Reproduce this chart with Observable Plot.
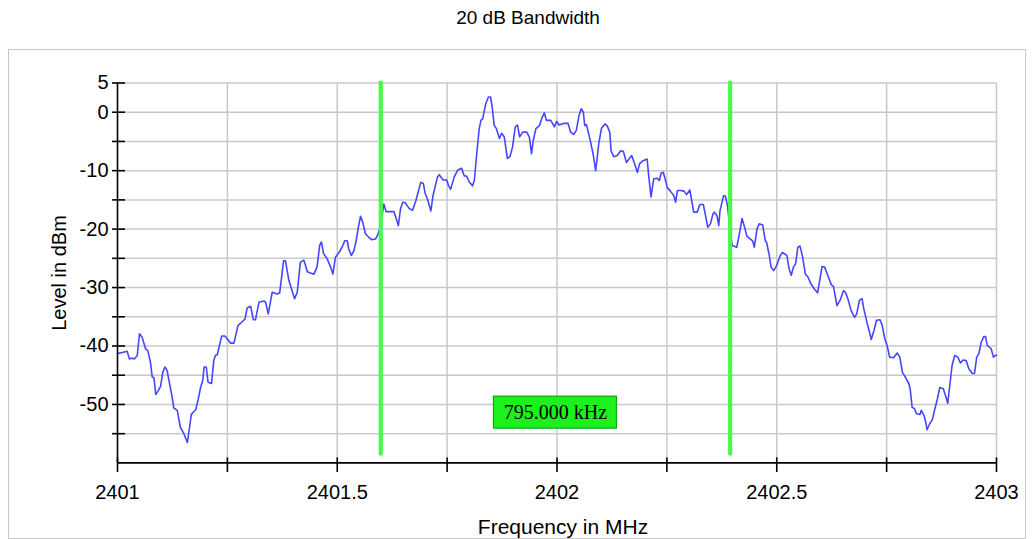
<!DOCTYPE html>
<html><head><meta charset="utf-8">
<script src="https://cdn.jsdelivr.net/npm/d3@7"></script>
<script src="https://cdn.jsdelivr.net/npm/@observablehq/plot@0.6"></script>
<style>
body{margin:0;background:#fff;font-family:"Liberation Sans",Arial,sans-serif;}
#title{position:absolute;left:0;top:7px;width:1056px;text-align:center;font-size:19px;line-height:22px;color:#000;}
#frame{position:absolute;left:8px;top:49px;width:1018px;height:490px;border:1.5px solid #c8c8c8;box-sizing:border-box;}
#chart{position:absolute;left:0;top:49px;}
</style></head><body>
<div id="title">20 dB Bandwidth</div>
<div id="frame"></div>
<div id="chart"></div>
<script>
const freqMHz = [
2401.000,2401.011,2401.022,2401.027,2401.033,2401.039,2401.045,2401.050,2401.056,2401.064,
2401.069,2401.075,2401.079,2401.083,2401.087,2401.093,2401.098,2401.103,2401.108,2401.113,
2401.117,2401.123,2401.128,2401.136,2401.143,2401.151,2401.159,2401.164,2401.168,2401.174,
2401.178,2401.184,2401.189,2401.194,2401.197,2401.202,2401.206,2401.214,2401.219,2401.223,
2401.227,2401.237,2401.244,2401.250,2401.257,2401.265,2401.274,2401.280,2401.290,2401.295,
2401.303,2401.309,2401.314,2401.322,2401.333,2401.337,2401.343,2401.352,2401.363,2401.369,
2401.378,2401.382,2401.390,2401.403,2401.409,2401.416,2401.424,2401.432,2401.439,2401.447,
2401.454,2401.460,2401.464,2401.469,2401.477,2401.485,2401.490,2401.496,2401.504,2401.511,
2401.517,2401.523,2401.526,2401.532,2401.538,2401.543,2401.548,2401.553,2401.558,2401.564,
2401.572,2401.578,2401.587,2401.592,2401.598,2401.606,2401.611,2401.629,2401.639,2401.644,
2401.649,2401.655,2401.663,2401.671,2401.679,2401.690,2401.696,2401.700,2401.705,2401.713,
2401.718,2401.728,2401.732,2401.741,2401.749,2401.753,2401.758,2401.766,2401.774,2401.783,
2401.789,2401.794,2401.800,2401.808,2401.812,2401.817,2401.823,2401.827,2401.831,2401.838,
2401.844,2401.849,2401.853,2401.857,2401.862,2401.869,2401.874,2401.880,2401.887,2401.893,
2401.899,2401.905,2401.910,2401.915,2401.922,2401.931,2401.937,2401.942,2401.946,2401.952,
2401.960,2401.965,2401.971,2401.976,2401.986,2401.994,2401.999,2402.005,2402.016,2402.025,
2402.031,2402.038,2402.044,2402.050,2402.055,2402.060,2402.063,2402.067,2402.075,2402.082,
2402.088,2402.095,2402.101,2402.109,2402.114,2402.120,2402.123,2402.129,2402.137,2402.145,
2402.151,2402.158,2402.163,2402.170,2402.176,2402.183,2402.188,2402.196,2402.205,2402.209,
2402.214,2402.220,2402.228,2402.233,2402.237,2402.242,2402.247,2402.251,2402.258,2402.266,
2402.270,2402.274,2402.281,2402.289,2402.295,2402.302,2402.305,2402.311,2402.319,2402.325,
2402.333,2402.338,2402.343,2402.349,2402.355,2402.358,2402.364,2402.368,2402.371,2402.379,
2402.383,2402.388,2402.395,2402.399,2402.409,2402.415,2402.421,2402.427,2402.432,2402.440,
2402.445,2402.449,2402.455,2402.460,2402.468,2402.474,2402.477,2402.483,2402.487,2402.493,
2402.500,2402.508,2402.513,2402.523,2402.528,2402.533,2402.538,2402.543,2402.548,2402.553,
2402.559,2402.565,2402.571,2402.578,2402.586,2402.593,2402.599,2402.603,2402.609,2402.616,
2402.624,2402.629,2402.637,2402.644,2402.652,2402.657,2402.663,2402.669,2402.677,2402.682,
2402.688,2402.694,2402.698,2402.706,2402.712,2402.715,2402.721,2402.727,2402.735,2402.740,
2402.746,2402.751,2402.757,2402.766,2402.774,2402.780,2402.786,2402.791,2402.801,2402.804,
2402.808,2402.813,2402.818,2402.826,2402.829,2402.835,2402.839,2402.842,2402.848,2402.854,
2402.859,2402.865,2402.871,2402.879,2402.884,2402.889,2402.895,2402.899,2402.905,2402.912,
2402.918,2402.924,2402.931,2402.937,2402.945,2402.950,2402.955,2402.960,2402.965,2402.971,
2402.975,2402.979,2402.985,2402.988,2402.993,2402.998,2403.000
];
const levelDBm = [
-41.3,-41.1,-40.9,-42.2,-42.1,-42.2,-41.6,-37.9,-38.5,-40.5,
-40.8,-42.8,-45.3,-45.4,-48.3,-47.6,-46.9,-44.5,-43.6,-44.2,
-45.9,-48.2,-50.6,-51.0,-53.9,-55.0,-56.5,-53.9,-51.7,-51.2,
-50.9,-49.0,-47.1,-45.9,-43.6,-43.6,-46.2,-46.4,-42.5,-41.6,
-41.5,-38.3,-38.3,-38.8,-39.5,-39.5,-36.5,-36.1,-35.4,-33.5,
-33.2,-35.5,-35.5,-32.5,-32.3,-32.5,-34.5,-30.8,-31.1,-30.9,
-25.4,-25.4,-28.8,-31.9,-30.8,-25.7,-25.3,-27.3,-27.5,-27.7,
-26.5,-22.8,-22.2,-24.2,-25.1,-26.5,-27.7,-24.8,-24.0,-23.1,
-22.0,-22.0,-23.4,-24.5,-23.7,-22.0,-19.7,-17.8,-18.8,-20.8,
-21.4,-21.8,-21.7,-21.0,-19.6,-15.7,-17.0,-17.0,-19.4,-16.5,
-15.4,-15.5,-16.4,-16.8,-15.1,-12.0,-12.2,-13.9,-14.8,-16.9,
-14.2,-11.1,-10.7,-11.6,-11.6,-12.5,-13.2,-11.1,-9.9,-9.6,
-10.9,-10.9,-11.9,-12.6,-11.6,-7.4,-2.8,-1.4,-1.1,1.5,
2.6,2.6,0.6,-2.2,-2.8,-4.5,-3.6,-4.2,-7.9,-7.6,
-5.9,-2.5,-2.2,-4.2,-3.4,-3.4,-4.2,-7.1,-4.8,-2.8,
-2.3,-1.1,-0.1,-1.4,-1.4,-2.5,-1.6,-2.2,-1.9,-1.9,
-3.4,-3.8,-3.1,-0.6,0.6,0.0,-2.3,-2.1,-4.6,-7.1,
-10.0,-5.4,-2.8,-2.0,-2.3,-3.4,-6.6,-7.6,-7.4,-6.6,
-6.7,-8.6,-8.1,-7.4,-8.7,-10.3,-8.8,-8.3,-8.0,-11.1,
-14.5,-11.4,-11.3,-11.7,-10.4,-10.3,-11.7,-12.9,-13.5,-14.3,
-15.4,-13.4,-13.4,-13.5,-14.1,-13.3,-14.5,-17.1,-17.1,-15.8,
-15.8,-17.7,-19.7,-19.1,-17.4,-17.1,-17.7,-19.4,-16.8,-14.3,
-14.3,-16.0,-21.1,-22.8,-23.1,-20.8,-18.2,-19.7,-21.2,-21.7,
-22.0,-23.1,-20.0,-19.1,-19.3,-22.0,-22.3,-24.5,-26.5,-27.1,
-26.2,-24.5,-24.0,-24.5,-26.8,-27.9,-26.5,-25.9,-23.1,-22.9,
-24.8,-27.7,-28.2,-29.4,-30.3,-30.9,-28.2,-26.4,-26.5,-27.9,
-29.5,-29.8,-33.1,-32.2,-30.5,-30.9,-32.2,-33.9,-35.1,-34.5,
-32.2,-31.9,-33.6,-36.2,-37.9,-38.9,-37.4,-35.6,-35.5,-36.5,
-38.8,-39.9,-41.9,-42.0,-41.2,-41.9,-44.5,-45.1,-46.5,-47.6,
-50.5,-50.7,-51.6,-51.7,-51.0,-51.9,-53.0,-54.3,-53.3,-52.6,
-51.0,-49.2,-47.1,-47.3,-48.5,-49.8,-45.9,-43.3,-41.6,-41.9,
-42.9,-42.4,-42.5,-43.9,-44.7,-44.7,-41.9,-41.3,-39.4,-38.4,
-38.4,-39.9,-40.3,-40.5,-41.9,-41.6,-41.6
];
const xTickLabels = [2401, 2401.5, 2402, 2402.5, 2403];
const xTickMarks = [2401, 2401.25, 2401.5, 2401.75, 2402, 2402.25, 2402.5, 2402.75, 2403];
const xGrid = [2401.25, 2401.5, 2401.75, 2402, 2402.25, 2402.5, 2402.75, 2403];
const yTickLabels = [5, 0, -10, -20, -30, -40, -50];
const yGrid = [5, 0, -5, -10, -15, -20, -25, -30, -35, -40, -45, -50, -55];
const markerMHz = [2401.599, 2402.394];
const markerLevelRange = [-58.5, 5];
const bandwidthLabel = ["795.000 kHz"];
const bandwidthLabelLevel = -51.4;
const xLabel = "Frequency in MHz";
const yLabel = "Level in dBm";

const trace = freqMHz.map((f, i) => ({f, l: levelDBm[i]}));
const labelMHz = (markerMHz[0] + markerMHz[1]) / 2;
const grid = "#c8c8c8";
const font = "Liberation Sans, Arial, Helvetica, sans-serif";

const chart = Plot.plot({
  width: 1034,
  height: 490,
  marginLeft: 117,
  marginRight: 38,
  marginTop: 33.5,
  marginBottom: 76.6,
  style: {background: "transparent", fontFamily: font, fontSize: "20px", color: "#000"},
  x: {domain: [2401, 2403], label: null},
  y: {domain: [-60, 5], label: null},
  marks: [
    Plot.ruleX(xGrid, {stroke: grid, strokeWidth: 1.5}),
    Plot.ruleY(yGrid, {stroke: grid, strokeWidth: 1.5}),
    Plot.line(trace, {x: "f", y: "l", stroke: "#4646ff", strokeWidth: 1.6}),
    Plot.ruleX(markerMHz, {y1: markerLevelRange[0], y2: markerLevelRange[1], stroke: "#46fa46", strokeWidth: 4.2, strokeLinecap: "round"}),
    Plot.rect(bandwidthLabel, {x1: labelMHz, x2: labelMHz, y1: bandwidthLabelLevel, y2: bandwidthLabelLevel,
      insetLeft: -61.5, insetRight: -61.5, insetTop: -16, insetBottom: -16,
      fill: "#1ef01e", stroke: "#10a810", strokeWidth: 1.2}),
    Plot.text(bandwidthLabel, {x: labelMHz, y: bandwidthLabelLevel, text: d => d, fontFamily: "Liberation Serif, Times New Roman, serif",
      fontSize: 20, fill: "#000", letterSpacing: 1}),
    Plot.ruleY([-60], {stroke: "#000", strokeWidth: 1.6}),
    Plot.ruleX([2401], {stroke: "#000", strokeWidth: 1.6}),
    Plot.ruleX(xTickMarks, {y1: -60, y2: -60, insetTop: -5, insetBottom: -9.6, stroke: "#000", strokeWidth: 1.6}),
    Plot.ruleY(yGrid, {x1: 2401, x2: 2401, insetLeft: -5, insetRight: -8, stroke: "#000", strokeWidth: 1.6}),
    Plot.axisX(xTickLabels, {tickSize: 0, tickPadding: 22, tickFormat: d => String(d), fontSize: 20, label: null}),
    Plot.axisY(yTickLabels, {tickSize: 0, tickPadding: 9, tickFormat: d => String(d), fontSize: 20, label: null}),
    Plot.text([xLabel], {frameAnchor: "bottom", dx: 6, dy: 64.6, text: d => d, fontSize: 21, lineAnchor: "middle", textAnchor: "middle"}),
    Plot.text([yLabel], {frameAnchor: "left", rotate: -90, dx: -58.4, text: d => d, fontSize: 20, lineAnchor: "middle", textAnchor: "middle"})
  ]
});
document.getElementById("chart").appendChild(chart);
</script>
</body></html>
